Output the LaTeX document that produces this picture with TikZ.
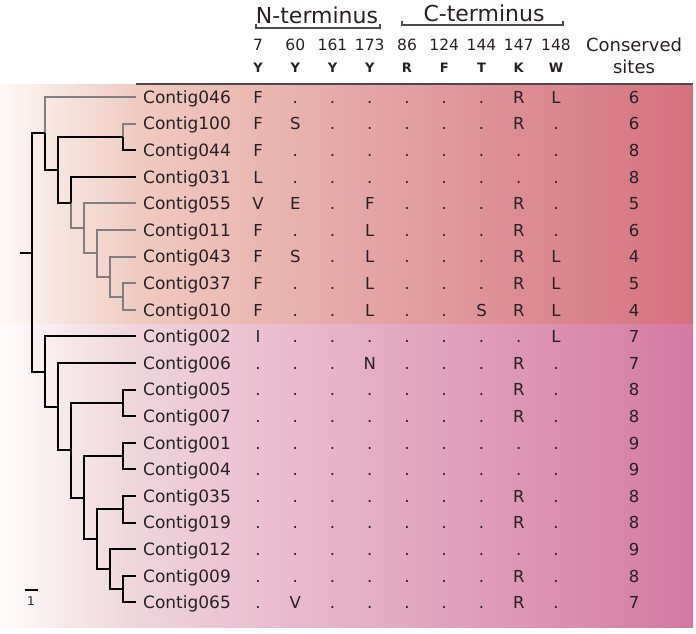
\documentclass[tikz,border=0pt]{standalone}
\usepackage{fontspec}
\setmainfont{DejaVu Sans}

\definecolor{txt}{HTML}{262223}
\definecolor{treegray}{HTML}{7F7F7F}
\definecolor{rulegray}{HTML}{4A4A4A}
\definecolor{topA}{HTML}{FDF8F6}
\definecolor{topB}{HTML}{EFCBBF}
\definecolor{topC}{HTML}{D5717E}
\definecolor{botA}{HTML}{FEFBFB}
\definecolor{botB}{HTML}{EFD4DC}
\definecolor{botC}{HTML}{D57AA3}

\tikzset{
  br/.style={line width=2pt, black},
  brgray/.style={line width=2pt, treegray},
  leaf/.style={anchor=west, inner xsep=7pt, inner ysep=0pt, text height=12.4pt, text depth=0pt,
    font=\fontsize{17}{20}\selectfont, text=txt},
  cell/.style={inner sep=0pt, text height=12.4pt, text depth=0pt,
    font=\fontsize{16.5}{19}\selectfont, text=txt},
  posnum/.style={inner sep=0pt, font=\fontsize{15.5}{18}\selectfont, text=txt},
  resid/.style={inner sep=0pt, font=\fontsize{13}{15}\selectfont\bfseries, text=txt},
  headline/.style={inner sep=0pt, font=\fontsize{22}{26}\selectfont, text=txt},
  bracket/.style={line width=1.2pt, rulegray}
}

\begin{document}
\begin{tikzpicture}[x=1pt, y=-1pt]
\useasboundingbox (0,0) rectangle (696,633);

% background bands
\shade[left color=topA, right color=topB] (0,84) rectangle (137,324);
\shade[left color=topB, right color=topC] (137,84) rectangle (693,324);
\shade[left color=botA, right color=botB] (0,324) rectangle (137,627);
\shade[left color=botB, right color=botC] (137,324) rectangle (693,627);
\draw[line width=1.2pt, rulegray] (136,84) -- (693,84); % rule under header

% header
\node[headline] (nterm) at (317,15) {N-terminus};
\draw[bracket] (256,24) -- (256,28) -- (380,28) -- (380,24); % N bracket
\node[headline] (cterm) at (484,13) {C-terminus};
\draw[bracket] (402,21) -- (402,25) -- (563,25) -- (563,21); % C bracket
\foreach \pos/\aa [count=\j from 0] in {7/Y,60/Y,161/Y,173/Y,86/R,124/F,144/T,147/K,148/W}{
  \node[posnum] (h\j) at (258+37.25*\j,45) {\pos}; % site number
  \node[resid] (a\j) at (258+37.25*\j,68) {\aa}; % residue
}
\node[headline, font=\fontsize{18}{21}\selectfont] (cons) at (634,45) {Conserved};
\node[headline, font=\fontsize{18}{21}\selectfont] (sites) at (634,67) {sites};

% rows
\foreach \name/\res/\cons [count=\i from 0] in {
  046/{F,.,.,.,.,.,.,R,L}/6,
  100/{F,S,.,.,.,.,.,R,.}/6,
  044/{F,.,.,.,.,.,.,.,.}/8,
  031/{L,.,.,.,.,.,.,.,.}/8,
  055/{V,E,.,F,.,.,.,R,.}/5,
  011/{F,.,.,L,.,.,.,R,.}/6,
  043/{F,S,.,L,.,.,.,R,L}/4,
  037/{F,.,.,L,.,.,.,R,L}/5,
  010/{F,.,.,L,.,.,S,R,L}/4,
  002/{I,.,.,.,.,.,.,.,L}/7,
  006/{.,.,.,N,.,.,.,R,.}/7,
  005/{.,.,.,.,.,.,.,R,.}/8,
  007/{.,.,.,.,.,.,.,R,.}/8,
  001/{.,.,.,.,.,.,.,.,.}/9,
  004/{.,.,.,.,.,.,.,.,.}/9,
  035/{.,.,.,.,.,.,.,R,.}/8,
  019/{.,.,.,.,.,.,.,R,.}/8,
  012/{.,.,.,.,.,.,.,.,.}/9,
  009/{.,.,.,.,.,.,.,R,.}/8,
  065/{.,V,.,.,.,.,.,R,.}/7}{
  \node[leaf] (C\name) at (136,97+26.6*\i) {Contig\name}; % leaf label
  \foreach \r [count=\j from 0] in \res
    \node[cell] (r\i-\j) at (258+37.25*\j,97+26.6*\i) {\r};
  \node[cell] (s\i) at (634,97+26.6*\i) {\cons}; % conserved count
}

% tree nodes
\coordinate (root0) at (20,252.5);
\coordinate (root) at (32,252.5);
\coordinate (nA) at (45,133.4);
\coordinate (nB) at (58,169.7);
\coordinate (nC) at (123,136.9);
\coordinate (nD) at (71,202.6);
\coordinate (nE) at (84,228.3);
\coordinate (nF) at (97,253.3);
\coordinate (nG) at (110,276.6);
\coordinate (nH) at (123,296.5);
\coordinate (mA) at (45,371.5);
\coordinate (mB) at (58,406.6);
\coordinate (mC) at (71,450.3);
\coordinate (mD) at (123,402.9);
\coordinate (mE) at (84,497.7);
\coordinate (mF) at (123,456.1);
\coordinate (mG) at (97,539.2);
\coordinate (mH) at (123,509.3);
\coordinate (mI) at (110,569.2);
\coordinate (mJ) at (123,589.1);

% upper clade
\draw[brgray] (nA) |- (C046.west);
\draw[brgray] (nC) |- (C100.west);
\draw[brgray] (nD) |- (nE);
\draw[brgray] (nE) |- (C055.west);
\draw[brgray] (nE) |- (nF);
\draw[brgray] (nF) |- (C011.west);
\draw[brgray] (nF) |- (nG);
\draw[brgray] (nG) |- (C043.west);
\draw[brgray] (nG) |- (nH);
\draw[brgray] (nH) |- (C037.west);
\draw[brgray] (nH) |- (C010.west);
\draw[br] (root0) -- (root);
\draw[br] (root) |- (nA);
\draw[br] (root) |- (mA);
\draw[br] (nA) |- (nB);
\draw[br] (nB) |- (nC);
\draw[br] (nB) |- (nD);
\draw[br] (nC) |- (C044.west);
\draw[br] (nD) |- (C031.west);

% lower clade
\draw[br] (mA) |- (C002.west);
\draw[br] (mA) |- (mB);
\draw[br] (mB) |- (C006.west);
\draw[br] (mB) |- (mC);
\draw[br] (mC) |- (mD);
\draw[br] (mC) |- (mE);
\draw[br] (mD) |- (C005.west);
\draw[br] (mD) |- (C007.west);
\draw[br] (mE) |- (mF);
\draw[br] (mE) |- (mG);
\draw[br] (mF) |- (C001.west);
\draw[br] (mF) |- (C004.west);
\draw[br] (mG) |- (mH);
\draw[br] (mG) |- (mI);
\draw[br] (mH) |- (C035.west);
\draw[br] (mH) |- (C019.west);
\draw[br] (mI) |- (C012.west);
\draw[br] (mI) |- (mJ);
\draw[br] (mJ) |- (C009.west);
\draw[br] (mJ) |- (C065.west);

% scale bar
\node[posnum, font=\fontsize{12}{14}\selectfont] (scale) at (31,601) {1};
\draw[line width=1.2pt, black] (25,590) -- (38,590);

\end{tikzpicture}
\end{document}
